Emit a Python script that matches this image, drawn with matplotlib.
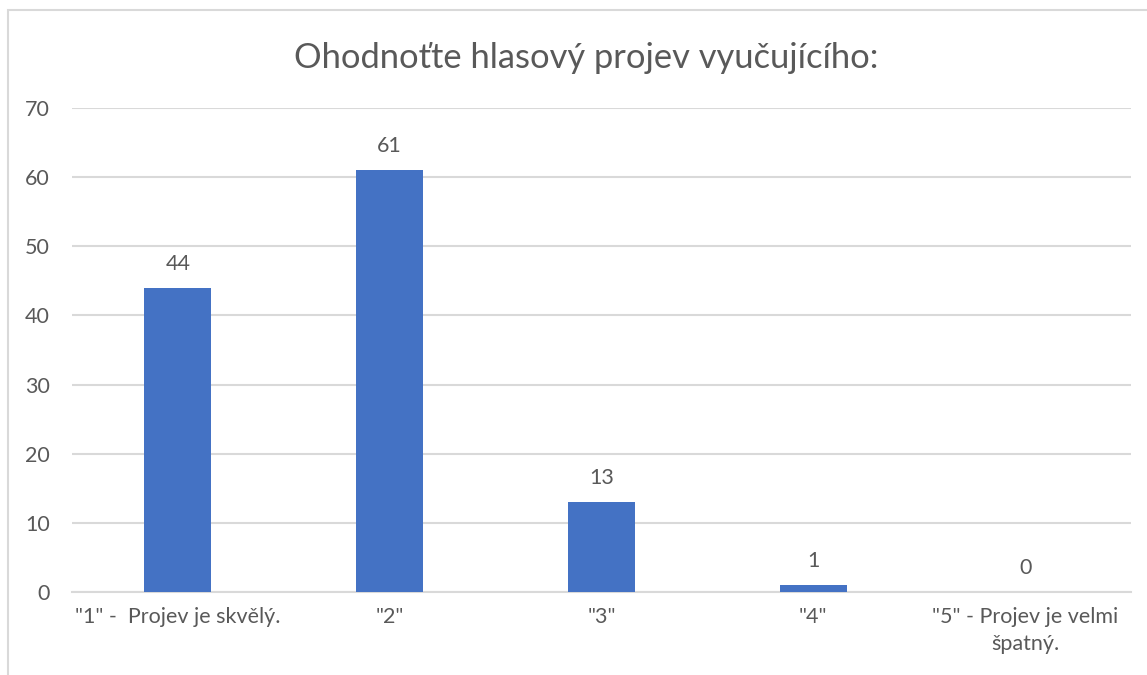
import matplotlib.pyplot as plt
from matplotlib.patches import Rectangle

# Data
categories = ['"1" -  Projev je skvělý.', '"2"', '"3"', '"4"', '"5" - Projev je velmi\nšpatný.']
values = [44, 61, 13, 1, 0]
yticks = [0, 10, 20, 30, 40, 50, 60, 70]

bar_color = '#4472C4'
grid_color = '#D9D9D9'
text_color = '#595959'

plt.rcParams['font.family'] = ['Lato', 'DejaVu Sans']

W, H = 1147, 675
fig = plt.figure(figsize=(W / 100, H / 100), dpi=100)

# chart border (clipped at right and bottom like the screenshot)
fig.patches.append(Rectangle((8 / W, -0.1), 1.2, (H - 10) / H + 0.1, transform=fig.transFigure,
                             fill=False, edgecolor=grid_color, linewidth=1.5))

ax = fig.add_axes([72 / W, 1 - 592 / H, (1131 - 72) / W, (592 - 108) / H])
x = range(len(categories))
ax.bar(x, values, width=0.316, color=bar_color, zorder=3)
ax.set_xlim(-0.5, len(categories) - 0.5)
ax.set_ylim(0, 70)
ax.set_yticks(yticks)
ax.yaxis.grid(True, color=grid_color, linewidth=1.5, zorder=0)
ax.set_xticks(list(x))
ax.set_xticklabels(categories, fontsize=15.5, color=text_color, linespacing=1.4)
ax.tick_params(axis='both', length=0, labelsize=15.5, labelcolor=text_color)
ax.tick_params(axis='y', pad=16)
ax.tick_params(axis='x', pad=11)
for s in ['top', 'right', 'left']:
    ax.spines[s].set_visible(False)
ax.spines['bottom'].set_color(grid_color)
ax.spines['bottom'].set_linewidth(1.5)

for xi, v in zip(x, values):
    ax.annotate(str(v), (xi, v), xytext=(0, 10), textcoords='offset points',
                ha='center', va='bottom', fontsize=15.5, color=text_color)

fig.text(586 / W, 1 - 58 / H, 'Ohodnoťte hlasový projev vyučujícího:', ha='center', va='center',
         fontsize=24.8, color=text_color)

fig.savefig('out.png', dpi=100, facecolor='white')
